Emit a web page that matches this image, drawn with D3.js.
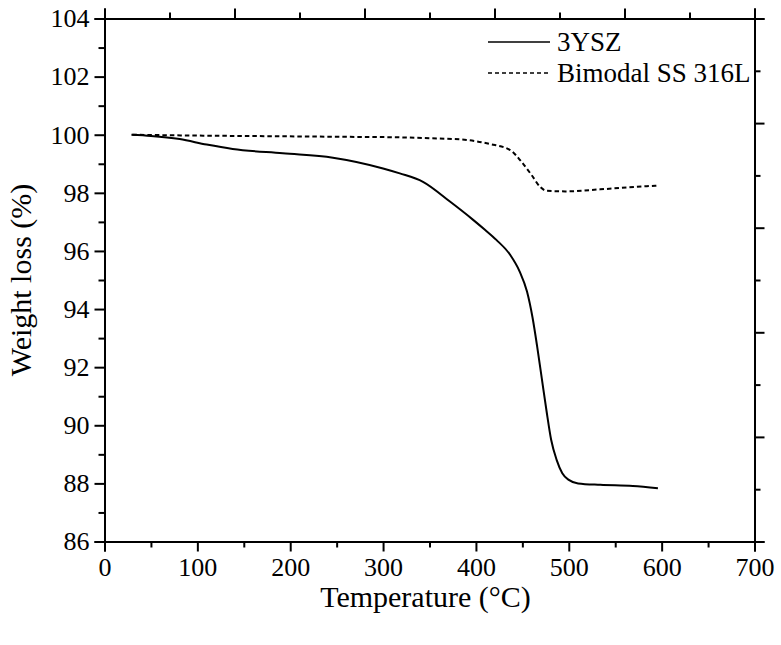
<!DOCTYPE html>
<html><head><meta charset="utf-8">
<script src="https://cdn.jsdelivr.net/npm/d3@7"></script>
</head>
<body style="margin:0;background:#fff">
<svg id="c" width="781" height="645"></svg>
<script>
const ysz_temp = [29, 50, 81, 110, 138, 192, 246, 300, 318, 343, 372, 397, 410, 422, 437, 447, 455, 461, 466, 471, 476, 481, 487, 493, 500, 510, 534, 569, 596];
const ysz_weight = [100.0, 99.96, 99.85, 99.66, 99.51, 99.36, 99.21, 98.84, 98.67, 98.38, 97.70, 97.07, 96.72, 96.38, 95.86, 95.30, 94.60, 93.70, 92.70, 91.60, 90.50, 89.50, 88.80, 88.35, 88.12, 88.00, 87.95, 87.91, 87.83];
const ss_temp = [30, 100, 175, 250, 318, 360, 390, 415, 437, 449, 460, 469, 476, 498, 534, 584, 597];
const ss_weight = [100.0, 99.97, 99.95, 99.93, 99.91, 99.87, 99.82, 99.68, 99.47, 99.07, 98.61, 98.21, 98.07, 98.05, 98.12, 98.23, 98.25];
const xTicks = [0, 100, 200, 300, 400, 500, 600, 700];
const yTicks = [86, 88, 90, 92, 94, 96, 98, 100, 102, 104];
const seriesNames = ["3YSZ", "Bimodal SS 316L"];

const FONT = '"Liberation Serif", "DejaVu Serif"';
const svg = d3.select("#c");
const L = 104.5, R = 754.5, T = 18.5, B = 541.5;
const x = d3.scaleLinear().domain([0, 700]).range([L, R]);
const y = d3.scaleLinear().domain([86, 104]).range([B, T]);
const xt = d3.scaleLinear().domain([0, 5]).range([L, R]);
const yr = d3.scaleLinear().domain([0, 5]).range([B, T]);

const axStyle = g => {
  g.attr("font-family", null);
  g.select(".domain").attr("stroke", "#000").attr("stroke-width", 2);
  g.selectAll("line").attr("stroke", "#000").attr("stroke-width", 2);
  g.selectAll("text").attr("fill", "#000").attr("font-size", 26).style("font-family", FONT);
};

// minor ticks
const xMinor = d3.range(50, 700, 100);
const yMinor = d3.range(87, 104, 2);
svg.append("g").attr("transform", `translate(0,${B})`)
  .call(d3.axisBottom(x).tickValues(xMinor).tickSize(6).tickFormat(""))
  .call(axStyle);
svg.append("g").attr("transform", `translate(${L},0)`)
  .call(d3.axisLeft(y).tickValues(yMinor).tickSize(6).tickFormat(""))
  .call(axStyle);
svg.append("g").attr("transform", `translate(0,${T})`)
  .call(d3.axisTop(xt).tickValues(d3.range(0.5, 5, 1)).tickSize(6).tickFormat(""))
  .call(axStyle);
svg.append("g").attr("transform", `translate(${R},0)`)
  .call(d3.axisRight(yr).tickValues(d3.range(0.5, 5, 1)).tickSize(6).tickFormat(""))
  .call(axStyle);

// major
svg.append("g").attr("transform", `translate(0,${T})`)
  .call(d3.axisTop(xt).tickValues(d3.range(0, 6, 1)).tickSize(10).tickFormat(""))
  .call(axStyle);
svg.append("g").attr("transform", `translate(${R},0)`)
  .call(d3.axisRight(yr).tickValues(d3.range(0, 6, 1)).tickSize(10).tickFormat(""))
  .call(axStyle);
svg.append("g").attr("transform", `translate(0,${B})`)
  .call(d3.axisBottom(x).tickValues(xTicks).tickSize(10).tickPadding(6).tickFormat(d3.format("d")))
  .call(axStyle);
svg.append("g").attr("transform", `translate(${L},0)`)
  .call(d3.axisLeft(y).tickValues(yTicks).tickSize(10).tickPadding(5).tickFormat(d3.format("d")))
  .call(axStyle);

// titles
svg.append("text").attr("x", (L + R) / 2 - 4).attr("y", 607).attr("text-anchor", "middle")
  .attr("font-size", 30).style("font-family", FONT).text("Temperature (°C)");
svg.append("text").attr("transform", `translate(31,${(T + B) / 2}) rotate(-90)`).attr("text-anchor", "middle")
  .attr("font-size", 30).style("font-family", FONT).text("Weight loss (%)");

// lines
const line = d3.line().curve(d3.curveMonotoneX);
const yszPts = ysz_temp.map((t, i) => [x(t), y(ysz_weight[i])]);
const ssPts = ss_temp.map((t, i) => [x(t), y(ss_weight[i])]);
svg.append("path").attr("d", line(ssPts)).attr("fill", "none").attr("stroke", "#000")
  .attr("stroke-width", 2).attr("stroke-dasharray", "4.5,3");
svg.append("path").attr("d", line(yszPts)).attr("fill", "none").attr("stroke", "#000")
  .attr("stroke-width", 2);

// legend
const leg = svg.append("g");
[0, 1].forEach(i => {
  const ly = 42 + i * 31;
  leg.append("line").attr("x1", 488).attr("x2", 550).attr("y1", ly).attr("y2", ly)
    .attr("stroke", "#000").attr("stroke-width", 1.6)
    .attr("stroke-dasharray", i === 1 ? "4,3" : null);
  leg.append("text").attr("x", 557).attr("y", ly + 9)
    .attr("font-size", 27).style("font-family", FONT).text(seriesNames[i]);
});
</script></body></html>
